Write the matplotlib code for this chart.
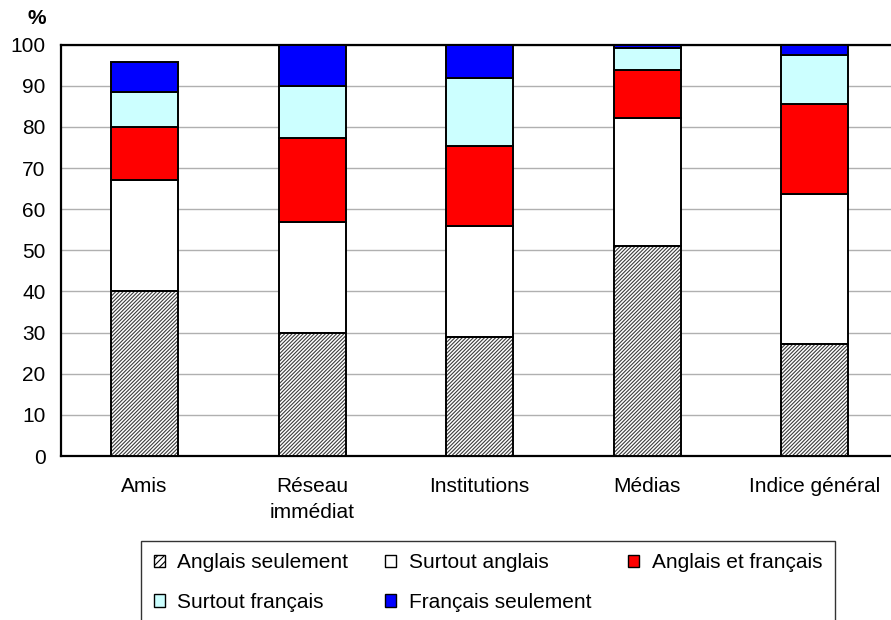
import matplotlib.pyplot as plt
from matplotlib.patches import Patch

plt.rcParams['font.family'] = ['Liberation Sans', 'DejaVu Sans']
plt.rcParams['hatch.linewidth'] = 0.8

categories = ['Amis', 'Réseau\nimmédiat', 'Institutions', 'Médias', 'Indice général']
series_names = ['Anglais seulement', 'Surtout anglais', 'Anglais et français',
                'Surtout français', 'Français seulement']
anglais_seul = [40, 30, 29, 51, 27.2]
surtout_anglais = [27, 26.8, 26.8, 31.1, 36.4]
anglais_francais = [13, 20.4, 19.5, 11.7, 21.9]
surtout_francais = [8.4, 12.7, 16.5, 5.3, 12.1]
francais_seul = [7.3, 10.1, 8.2, 0.9, 2.4]
yticks = list(range(0, 101, 10))

series = [anglais_seul, surtout_anglais, anglais_francais, surtout_francais, francais_seul]
colors = ['white', 'white', '#FF0000', '#CCFFFF', '#0000FF']
HATCH = '/' * 9

fig = plt.figure(figsize=(8.91, 6.2), dpi=100)
ax = fig.add_axes([60.7 / 891, 164 / 620, 838 / 891, 411.3 / 620])

x = range(len(categories))
width = 0.4
bottom = [0] * len(categories)
for i, (vals, col) in enumerate(zip(series, colors)):
    if i == 0:
        # hatch drawn in grey, outline drawn separately in black
        ax.bar(x, vals, width, bottom=bottom, color='white', edgecolor='#3c3c3c',
               hatch=HATCH, linewidth=0, zorder=3)
        ax.bar(x, vals, width, bottom=bottom, fill=False, edgecolor='black',
               linewidth=1.4, zorder=4)
    else:
        ax.bar(x, vals, width, bottom=bottom, color=col, edgecolor='black',
               linewidth=1.4, zorder=3)
    bottom = [b + v for b, v in zip(bottom, vals)]

ax.set_xlim(-0.5, len(categories) - 0.5)
ax.set_ylim(0, 100)
ax.set_yticks(yticks)
ax.set_xticks(list(x))
ax.set_xticklabels(categories, fontsize=15, linespacing=1.45)
ax.tick_params(axis='y', labelsize=15, length=0, pad=11)
ax.tick_params(axis='x', length=0, pad=15)
ax.grid(axis='y', color='#b0b0b0', linewidth=1, zorder=0)
ax.set_axisbelow(True)
ax.spines['right'].set_visible(False)
for s in ['left', 'bottom', 'top']:
    ax.spines[s].set_linewidth(1.6)

fig.text(27 / 891, 1 - 19 / 620, '%', fontsize=15, fontweight='bold', ha='left', va='center')

patch_kw = dict(edgecolor='black', linewidth=1)
handles = [Patch(facecolor='white', hatch='/////', **patch_kw),
           Patch(facecolor='white', **patch_kw),
           Patch(facecolor='#FF0000', **patch_kw),
           Patch(facecolor='#CCFFFF', **patch_kw),
           Patch(facecolor='#0000FF', **patch_kw)]
# legend fills column by column; reorder so rows read left to right
order = [0, 3, 1, 4, 2]
leg = fig.legend([handles[k] for k in order], [series_names[k] for k in order],
                 ncol=3, loc='upper left',
                 bbox_to_anchor=(141 / 891, 1 - 541 / 620), borderaxespad=0,
                 fontsize=15, frameon=True, fancybox=False, edgecolor='black',
                 handlelength=0.55, handleheight=0.55, handletextpad=0.6,
                 columnspacing=1.75, labelspacing=0.97, borderpad=0.6)
leg.get_frame().set_linewidth(1)

fig.savefig('out.png', dpi=100)
